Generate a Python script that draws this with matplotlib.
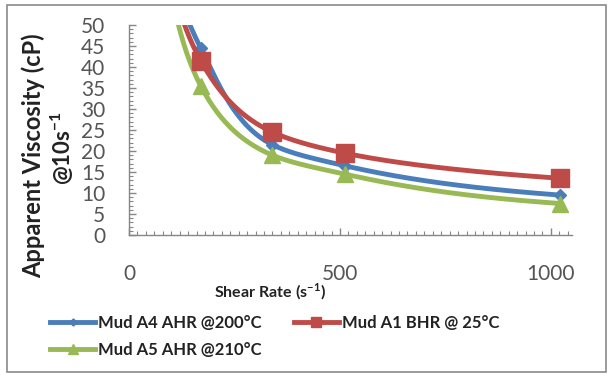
import numpy as np
import matplotlib
matplotlib.use("Agg")
import matplotlib.pyplot as plt
from matplotlib.patches import Rectangle
from matplotlib.lines import Line2D
from matplotlib.ticker import MultipleLocator

plt.rcParams["mathtext.fontset"] = "custom"
plt.rcParams["mathtext.rm"] = "Lato"
plt.rcParams["mathtext.bf"] = "Lato:bold"

# Data
shear_rate = [10.2, 170, 340, 511, 1022]
mud_a4 = [190, 44.5, 21.5, 16.5, 9.5]     # Mud A4 AHR @200°C
mud_a1 = [300, 41.5, 24.5, 19.5, 13.5]    # Mud A1 BHR @ 25°C
mud_a5 = [500, 35.5, 19.0, 14.5, 7.5]     # Mud A5 AHR @210°C
series_names = ["Mud A4 AHR @200°C", "Mud A1 BHR @ 25°C", "Mud A5 AHR @210°C"]
x_ticks = [0, 500, 1000]
y_ticks = list(range(0, 55, 5))

colors = ["#4A7EBB", "#BE4B48", "#98B954"]
markers = ["D", "s", "^"]
msizes = [6, 12.5, 11]


def pchip_loglog(xs, ys, n=80):
    lx = np.log(np.asarray(xs, float))
    ly = np.log(np.asarray(ys, float))
    h = np.diff(lx)
    d = np.diff(ly) / h
    m = np.zeros_like(lx)
    m[0], m[-1] = d[0], d[-1]
    for k in range(1, len(lx) - 1):
        if d[k - 1] * d[k] <= 0:
            m[k] = 0
        else:
            w1 = 2 * h[k] + h[k - 1]
            w2 = h[k] + 2 * h[k - 1]
            m[k] = (w1 + w2) / (w1 / d[k - 1] + w2 / d[k])
    X, Y = [], []
    for k in range(len(lx) - 1):
        t = np.linspace(0, 1, n)
        h00 = 2 * t**3 - 3 * t**2 + 1
        h10 = t**3 - 2 * t**2 + t
        h01 = -2 * t**3 + 3 * t**2
        h11 = t**3 - t**2
        yy = h00 * ly[k] + h10 * h[k] * m[k] + h01 * ly[k + 1] + h11 * h[k] * m[k + 1]
        xx = lx[k] + t * h[k]
        X.append(xx); Y.append(yy)
    return np.exp(np.concatenate(X)), np.exp(np.concatenate(Y))


fig = plt.figure(figsize=(6.09, 3.75), dpi=100)
fig.patches.append(Rectangle((7 / 609, 3 / 375), 599 / 609, 367 / 375, transform=fig.transFigure,
                             fill=False, edgecolor="#8a8a8a", linewidth=1.2))

ax = fig.add_axes([129 / 609, 1 - 235 / 375, 443 / 609, 210 / 375])
ax.set_xlim(0, 1050)
ax.set_ylim(0, 50)

data = [mud_a4, mud_a1, mud_a5]
order = [0, 2, 1]
for i in order:
    sx, sy = pchip_loglog(shear_rate, data[i])
    ax.plot(sx, sy, color=colors[i], lw=3.5, zorder=2 + i, solid_capstyle="round")
    ax.plot(shear_rate[1:], data[i][1:], linestyle="none", marker=markers[i],
            markersize=msizes[i], color=colors[i], zorder=3 + i)

for side in ["top", "right"]:
    ax.spines[side].set_visible(False)
for side in ["left", "bottom"]:
    ax.spines[side].set_color("#868686")
    ax.spines[side].set_linewidth(1.0)

ax.set_xticks(x_ticks)
ax.set_yticks(y_ticks)
ax.xaxis.set_minor_locator(MultipleLocator(20))
ax.yaxis.set_minor_locator(MultipleLocator(1))
ax.tick_params(axis="both", which="both", direction="in", color="#868686")
ax.tick_params(axis="both", which="major", length=5, width=1)
ax.tick_params(axis="both", which="minor", length=3, width=0.8)
ax.tick_params(axis="y", which="major", pad=17, labelsize=15, labelcolor="#555555")
ax.tick_params(axis="x", which="major", pad=21, labelsize=15, labelcolor="#555555")
for lab in ax.get_xticklabels() + ax.get_yticklabels():
    lab.set_fontfamily("Lato")

fig.text(33 / 609, 1 - 156 / 375, "Apparent Viscosity (cP)", rotation=90, ha="center", va="center",
         fontsize=17, fontweight="bold", family="Lato", color="#222222")
fig.text(62 / 609, 1 - 148 / 375, "@10s$^{\\mathbf{-1}}$", rotation=90, ha="center", va="center",
         fontsize=16, fontweight="bold", family="Lato", color="#222222")
fig.text(270 / 609, 1 - 292 / 375, "Shear Rate (s$^{\\mathbf{-1}}$)", ha="center", va="center",
         fontsize=11.5, fontweight="bold", family="Lato", color="#222222")

handles = [Line2D([0], [0], color=colors[i], lw=3.5, marker=markers[i], markersize=msizes[i] * 0.6)
           for i in range(3)]
leg_order = [0, 2, 1]
leg = fig.legend([handles[i] for i in leg_order], [series_names[i] for i in leg_order],
                 loc="upper left", bbox_to_anchor=(40 / 609, 1 - 305 / 375),
                 ncol=2, frameon=False, handlelength=2.7, handletextpad=0.2, columnspacing=1.9,
                 labelspacing=0.65, borderpad=0.1,
                 prop={"family": "Lato", "weight": "bold", "size": 12})
for t in leg.get_texts():
    t.set_color("#222222")

fig.savefig("out.png", dpi=100)
